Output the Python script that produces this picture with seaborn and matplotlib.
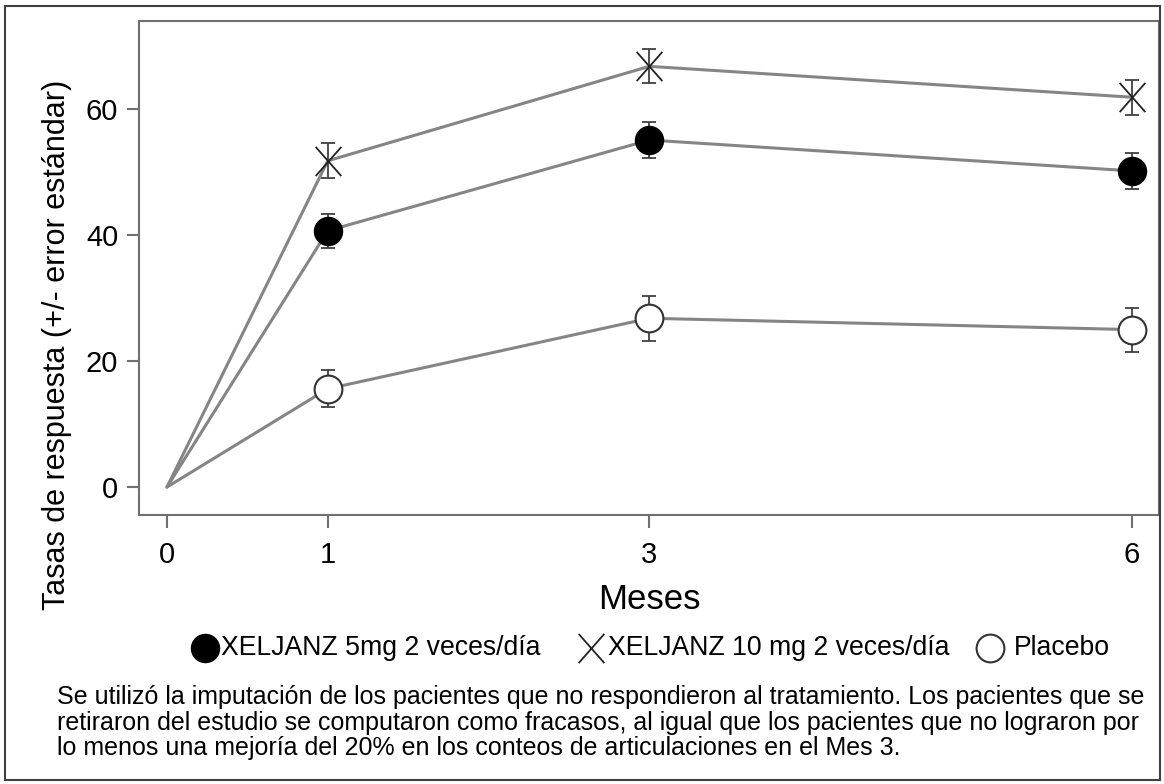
import matplotlib
matplotlib.use("Agg")
import matplotlib.pyplot as plt
import matplotlib.patches as mpatches
from matplotlib.lines import Line2D
from matplotlib.path import Path
import seaborn as sns
import pandas as pd

# ---- data ----
months = [0, 1, 3, 6]
series_names = ["XELJANZ 5mg 2 veces/día", "XELJANZ 10 mg 2 veces/día", "Placebo"]
vals_5mg = [0, 40.7, 55.1, 50.2]
vals_10mg = [0, 51.8, 66.8, 61.9]
vals_placebo = [0, 15.6, 26.8, 25.0]
se_5mg = [0, 2.7, 2.85, 2.85]
se_10mg = [0, 2.8, 2.7, 2.75]
se_placebo = [0, 2.95, 3.55, 3.5]
xticks = [0, 1, 3, 6]
yticks = [0, 20, 40, 60]
footnote = ("Se utilizó la imputación de los pacientes que no respondieron al tratamiento. Los pacientes que se\n"
            "retiraron del estudio se computaron como fracasos, al igual que los pacientes que no lograron por\n"
            "lo menos una mejoría del 20% en los conteos de articulaciones en el Mes 3.")

rows = []
for name, v, s in zip(series_names, [vals_5mg, vals_10mg, vals_placebo], [se_5mg, se_10mg, se_placebo]):
    for m, y, e in zip(months, v, s):
        rows.append({"Mes": m, "Tasa": y, "SE": e, "Grupo": name})
df = pd.DataFrame(rows)

sns.set_theme(style="white")
plt.rcParams["font.family"] = ["Liberation Sans", "DejaVu Sans"]
plt.rcParams["text.color"] = "black"
plt.rcParams["axes.labelcolor"] = "black"

W, H = 1164, 784
fig = plt.figure(figsize=(W / 100, H / 100), dpi=100)
ax = fig.add_axes([139 / W, 1 - 515 / H, (1159 - 139) / W, (515 - 21) / H])

line_col = "#858585"
sns.lineplot(data=df, x="Mes", y="Tasa", hue="Grupo", palette=[line_col] * 3,
             linewidth=2.2, legend=False, ax=ax, estimator=None, sort=False)

tall_x = Path([(-0.88, -1), (0.88, 1), (-0.88, 1), (0.88, -1)],
              [Path.MOVETO, Path.LINETO, Path.MOVETO, Path.LINETO])

styles = {
    series_names[0]: dict(marker="o", ms=20, mfc="black", mec="black", mew=1.2),
    series_names[1]: dict(marker=tall_x, ms=21, mfc="none", mec="#222222", mew=1.3),
    series_names[2]: dict(marker="o", ms=20, mfc="white", mec="#333333", mew=1.5),
}

for name in series_names:
    sub = df[(df["Grupo"] == name) & (df["Mes"] > 0)]
    ax.errorbar(sub["Mes"], sub["Tasa"], yerr=sub["SE"], fmt="none",
                ecolor="#404040", elinewidth=1.3, capsize=5, capthick=1.3, zorder=3)
    ax.plot(sub["Mes"], sub["Tasa"], linestyle="none", zorder=4, **styles[name])

ax.set_xlim(-0.174, 6.17)
ax.set_ylim(-4.44, 74.0)
ax.set_xticks(xticks)
ax.set_yticks(yticks)
ax.tick_params(axis="both", direction="out", length=9, width=1.5, color="#707070",
               labelsize=21, labelcolor="black", bottom=True, left=True)
ax.tick_params(axis="x", pad=10)
ax.tick_params(axis="y", pad=6)
for sp in ax.spines.values():
    sp.set_color("#707070")
    sp.set_linewidth(1.5)
ax.set_xlabel("Meses", fontsize=25, labelpad=10, color="black")
ax.set_ylabel("Tasas de respuesta (+/- error estándar)", fontsize=22, color="black")
ax.yaxis.set_label_coords((72 - 139) / 1020, (515 - 345) / 494)

# legend (manually placed items)
leg_y = 1 - 648 / H
leg_items = [(205, 221), (591, 608), (990, 1014)]
for name, (mx, tx) in zip(series_names, leg_items):
    st = dict(styles[name])
    fig.add_artist(Line2D([mx / W], [leg_y], transform=fig.transFigure, linestyle="none", **st))
    fig.text(tx / W, leg_y, name, ha="left", va="center", fontsize=19.2, color="black")

fig.text(57 / W, 1 - 685 / H, footnote, ha="left", va="top", fontsize=18, linespacing=1.08,
         color="black")

fig.patches.append(mpatches.Rectangle((5 / W, 1 - 780 / H), (1160 - 5) / W, (780 - 6) / H,
                                      transform=fig.transFigure, fill=False,
                                      edgecolor="#404040", linewidth=1.5))

fig.savefig("out.png", dpi=100)
